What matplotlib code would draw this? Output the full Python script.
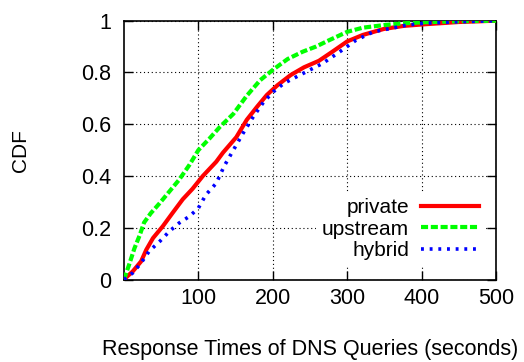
import matplotlib
matplotlib.use("Agg")
import matplotlib.pyplot as plt
from matplotlib.ticker import FuncFormatter

# CDF of DNS response times
private_x = [0, 12, 23, 30, 39, 52, 65, 79, 92, 106, 124, 133, 151, 165, 179, 192, 206, 224, 242,
             262, 280, 300, 321, 349, 376, 403, 450, 500]
private_y = [0, 0.032, 0.07, 0.115, 0.16, 0.205, 0.256, 0.31, 0.35, 0.40, 0.455, 0.49, 0.55, 0.617,
             0.668, 0.713, 0.75, 0.79, 0.82, 0.845, 0.88, 0.92, 0.945, 0.968, 0.98, 0.986, 0.995, 1.0]

upstream_x = [0, 7, 14, 21, 27, 36, 48, 61, 74, 88, 100, 115, 129, 147, 165, 183, 200, 220, 240,
              258, 276, 300, 321, 349, 376, 403, 450, 500]
upstream_y = [0, 0.058, 0.12, 0.17, 0.22, 0.256, 0.295, 0.34, 0.385, 0.443, 0.50, 0.545, 0.59, 0.64,
              0.71, 0.77, 0.81, 0.852, 0.88, 0.90, 0.925, 0.957, 0.973, 0.983, 0.99, 0.994, 0.998, 1.0]

hybrid_x = [0, 12, 23, 34, 48, 61, 74, 88, 100, 110, 124, 135, 147, 160, 174, 188, 201, 215, 233,
            250, 267, 290, 312, 335, 358, 380, 403, 450, 500]
hybrid_y = [0, 0.026, 0.064, 0.11, 0.147, 0.186, 0.218, 0.244, 0.276, 0.327, 0.372, 0.44, 0.50, 0.565,
            0.63, 0.687, 0.726, 0.758, 0.785, 0.81, 0.835, 0.88, 0.925, 0.957, 0.97, 0.983, 0.99, 0.996, 1.0]

x_ticks = [100, 200, 300, 400, 500]
y_ticks = [0, 0.2, 0.4, 0.6, 0.8, 1]

plt.rcParams['font.family'] = ['Liberation Sans', 'DejaVu Sans']
plt.rcParams['font.size'] = 15

fig = plt.figure(figsize=(5.24, 3.62), dpi=100)
ax = fig.add_axes([0.2366, 0.2279, 0.71, 0.7149])

ax.plot(private_x, private_y, color='#ff0000', lw=3, label='private', zorder=3)
ax.plot(upstream_x, upstream_y, color='#00ff00', lw=3, linestyle=(0, (1.7, 0.65)),
        dash_capstyle='butt', label='upstream', zorder=3)
ax.plot(hybrid_x, hybrid_y, color='#0000ff', lw=2.6, linestyle=(0, (0.8, 1.6)),
        dash_capstyle='butt', label='hybrid', zorder=3)

ax.set_xlim(0, 500)
ax.set_ylim(0, 1)
ax.set_xticks(x_ticks)
ax.set_yticks(y_ticks)
ax.yaxis.set_major_formatter(FuncFormatter(lambda v, p: '%g' % v))

ax.grid(True, color='black', linestyle=(0, (1, 2.5)), linewidth=0.8)
ax.tick_params(direction='in', length=6.5, width=1, top=True, right=True, labelsize=15.5)
ax.tick_params(axis='x', pad=6)
ax.tick_params(axis='y', pad=9)
for s in ax.spines.values():
    s.set_linewidth(1.2)

ax.set_xlabel('Response Times of DNS Queries (seconds)', fontsize=15.5)
ax.xaxis.set_label_coords(0.5, -0.23)
ax.set_ylabel('CDF', va='center')
ax.yaxis.set_label_coords(-0.277, 0.5)

leg = ax.legend(loc='lower right', bbox_to_anchor=(0.971, 0.051), markerfirst=False,
                handlelength=2.8, handletextpad=0.55, labelspacing=0.12,
                borderpad=0.3, borderaxespad=0, fancybox=False,
                facecolor='white', edgecolor='none', framealpha=1)

fig.savefig('out.png', dpi=100)
